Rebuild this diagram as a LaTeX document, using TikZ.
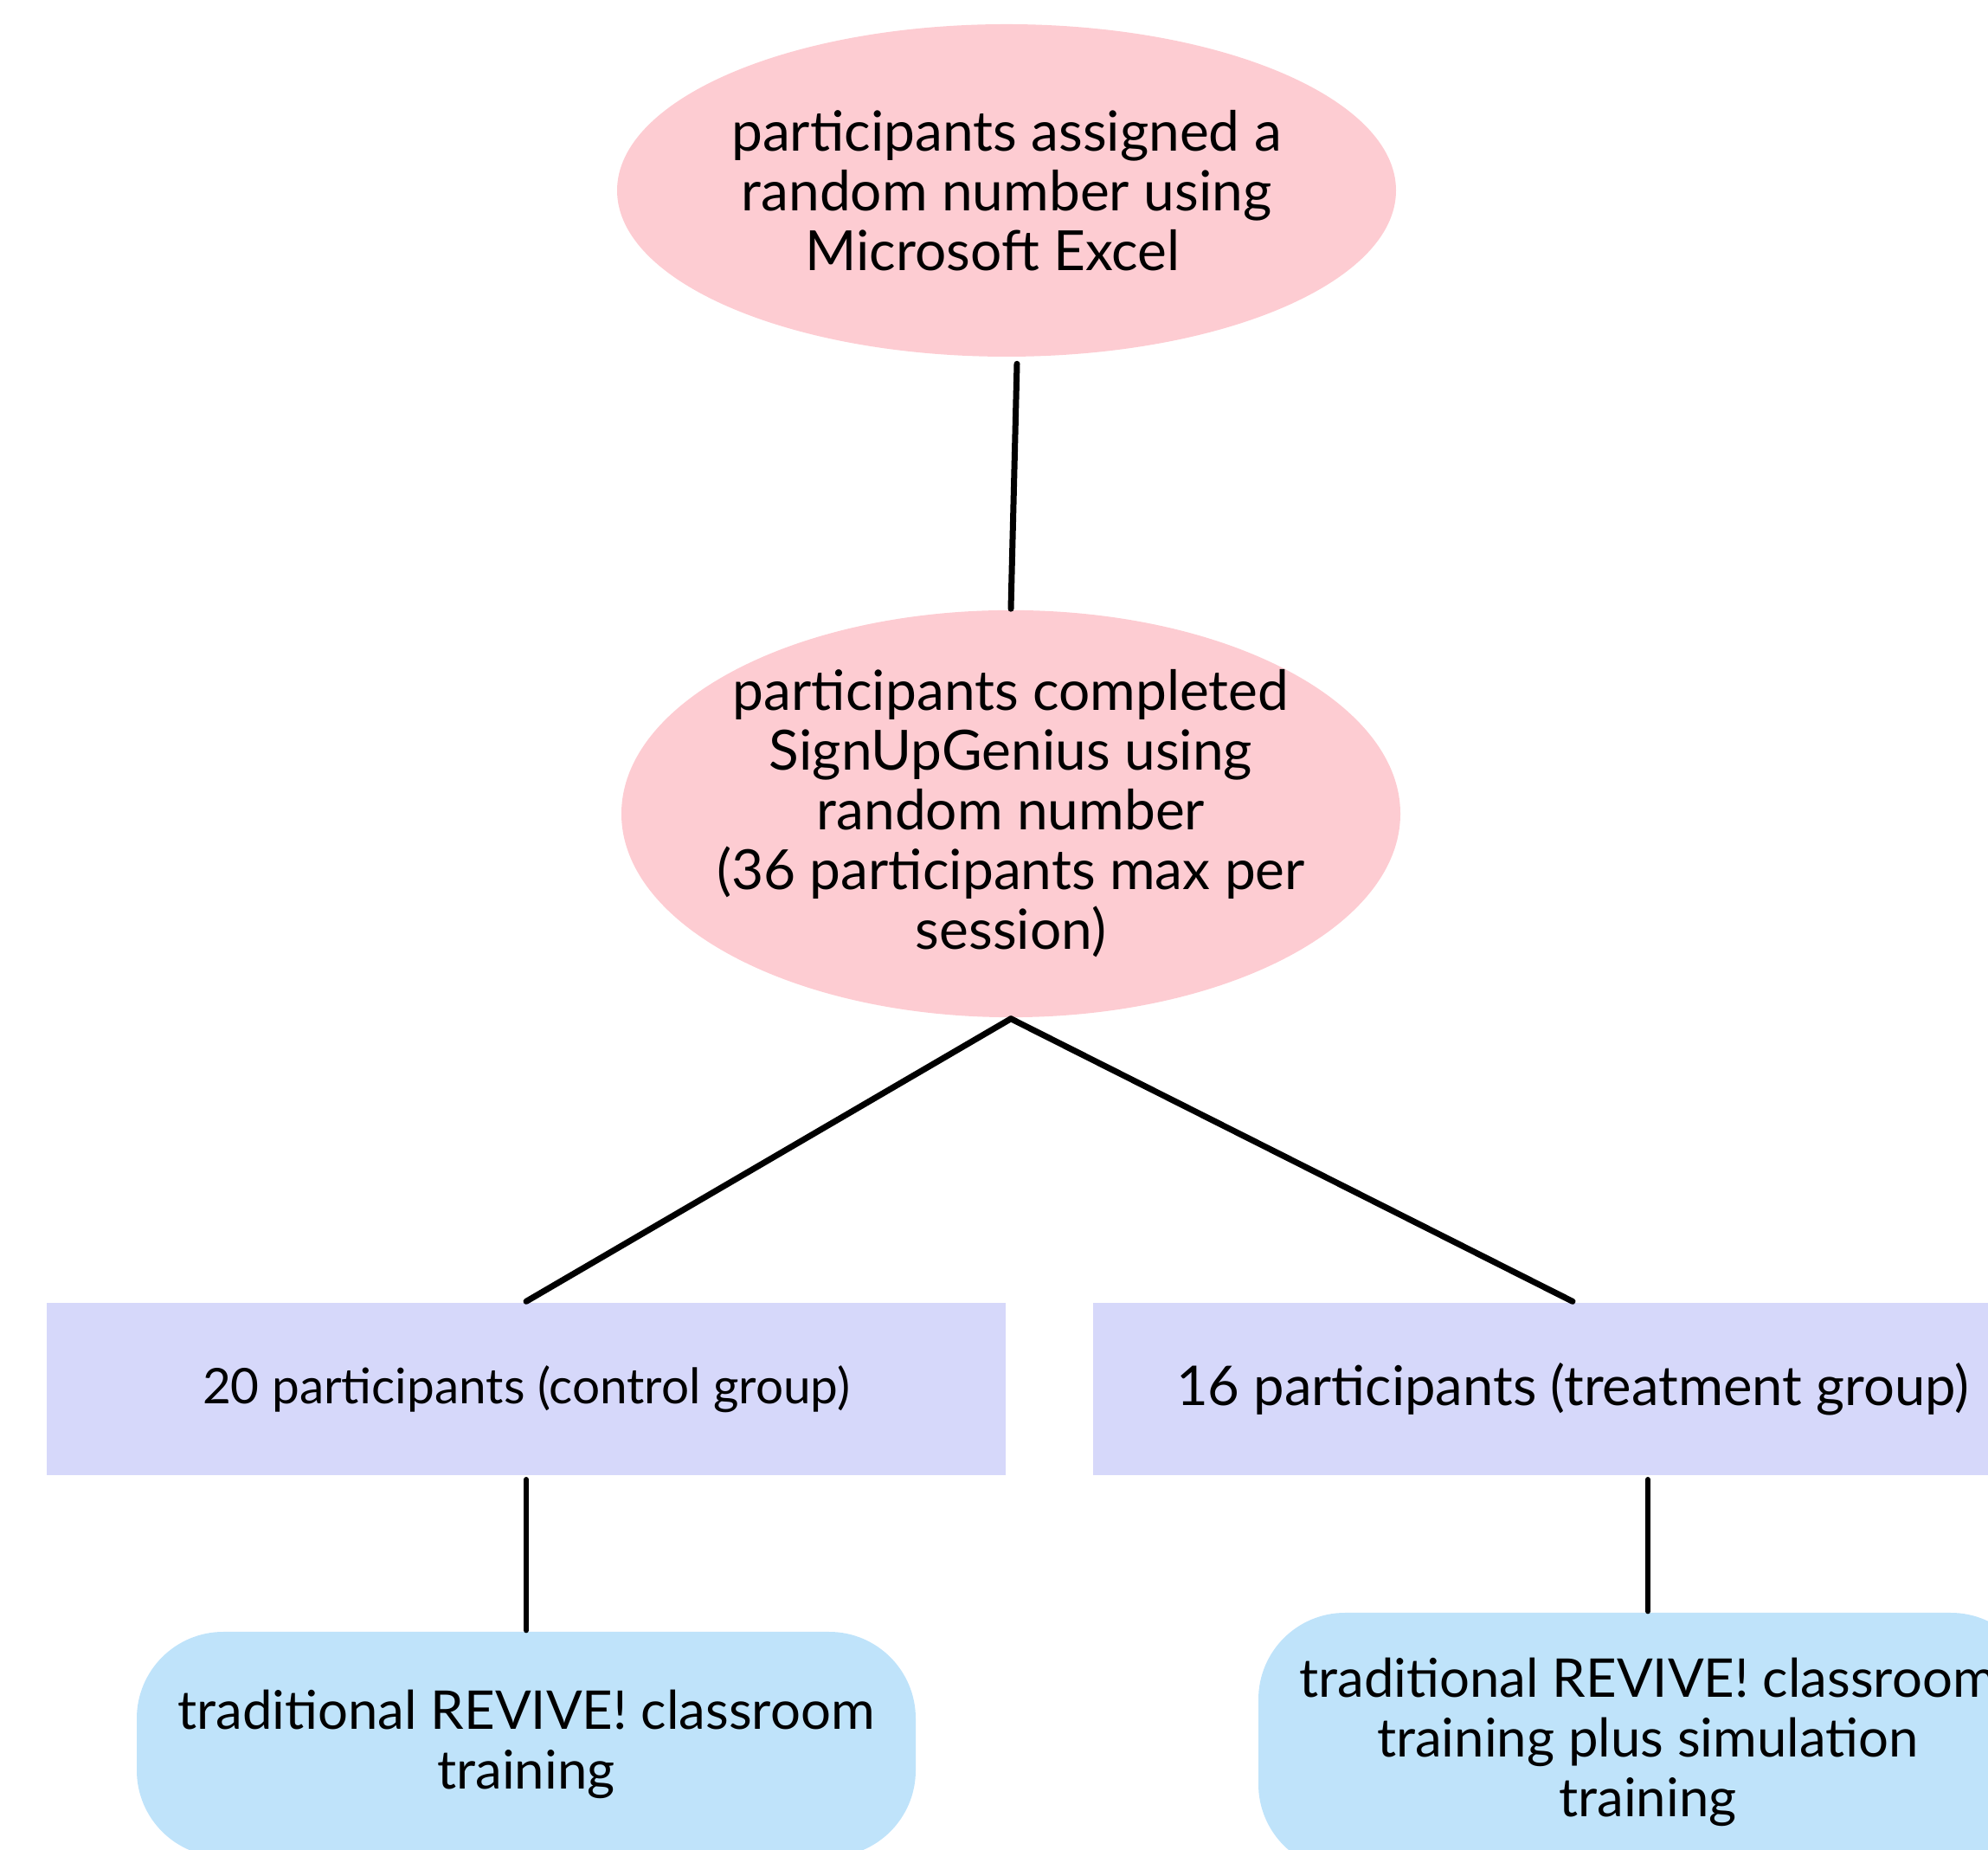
\documentclass[tikz,border=0pt]{standalone}
\usepackage{fontspec}
\setmainfont{Lato}
\usepackage{tikz}
\usetikzlibrary{arrows,positioning,shapes}
\usetikzlibrary{calc,shapes.geometric}
\definecolor{pinkfill}{RGB}{253,204,210}
\definecolor{lavfill}{RGB}{214,216,250}
\definecolor{bluefill}{RGB}{191,227,250}

\begin{document}
\begin{tikzpicture}[>=latex',line join=bevel,
  oval/.style={ellipse,fill=pinkfill,inner sep=0pt,align=center,
    font=\fontsize{19.2bp}{20.7bp}\selectfont},
  groupbox/.style={rectangle,fill=lavfill,inner sep=0pt,
    minimum width=332.4bp,minimum height=59.7bp},
  trainbox/.style={rectangle,rounded corners=30bp,fill=bluefill,inner sep=0pt,
    align=center,minimum width=270bp,font=\fontsize{18.5bp}{20.7bp}\selectfont},
  link/.style={line width=2.1bp,line cap=round}]
  \pgfsetlinewidth{1bp}
  \useasboundingbox (0bp,0bp) rectangle (689.1bp,641.1bp);
  \clip (0bp,0bp) rectangle (689.1bp,641.1bp);
%%
  % Node: assign
\begin{scope}
  \node[oval,minimum width=270bp,minimum height=115.2bp] (assign) at (348.9bp,575.1bp)
    {participants assigned a\\random number using\\Microsoft Excel\hspace*{0.5em}};
\end{scope}
  % Node: signup
\begin{scope}
  \node[oval,inner xsep=-9bp,minimum width=270bp,minimum height=139.8bp] (signup) at (350.4bp,359.1bp)
    {participants completed\\SignUpGenius using\\random number\\(36 participants max per\\session)};
\end{scope}
  % Node: control
\begin{scope}
  \node[groupbox,font=\fontsize{17bp}{20bp}\selectfont] (control) at (182.4bp,159.75bp)
    {20 participants (control group)};
\end{scope}
  % Node: treatment
\begin{scope}
  \node[groupbox,font=\fontsize{19bp}{20.7bp}\selectfont] (treatment) at (545.1bp,159.75bp)
    {16 participants (treatment group)};
\end{scope}
  % Node: classroom
\begin{scope}
  \node[trainbox,minimum height=78bp] (classroom) at (182.4bp,36.6bp)
    {traditional REVIVE! classroom\\training};
\end{scope}
  % Node: simulation
\begin{scope}
  \node[trainbox,minimum height=89.4bp] (simulation) at (571.2bp,37.5bp)
    {traditional REVIVE! classroom\\training plus simulation\\training};
\end{scope}
%
  % Edge: assign -> signup
  \draw [link] ($(assign.south)+(3.6bp,-2bp)$) -- (signup.north);
  % Edge: signup -> control
  \draw [link] (signup.south) -- (control.north);
  % Edge: signup -> treatment
  \draw [link] (signup.south) -- (treatment.north);
  % Edge: control -> classroom
  \draw [link,line width=1.8bp] ($(control.south)+(0,-1bp)$) -- (classroom.north);
  % Edge: treatment -> simulation
  \draw [link,line width=1.8bp] (simulation.north |- treatment.south) ++(0,-1bp) -- (simulation.north);
%
\end{tikzpicture}
\end{document}
